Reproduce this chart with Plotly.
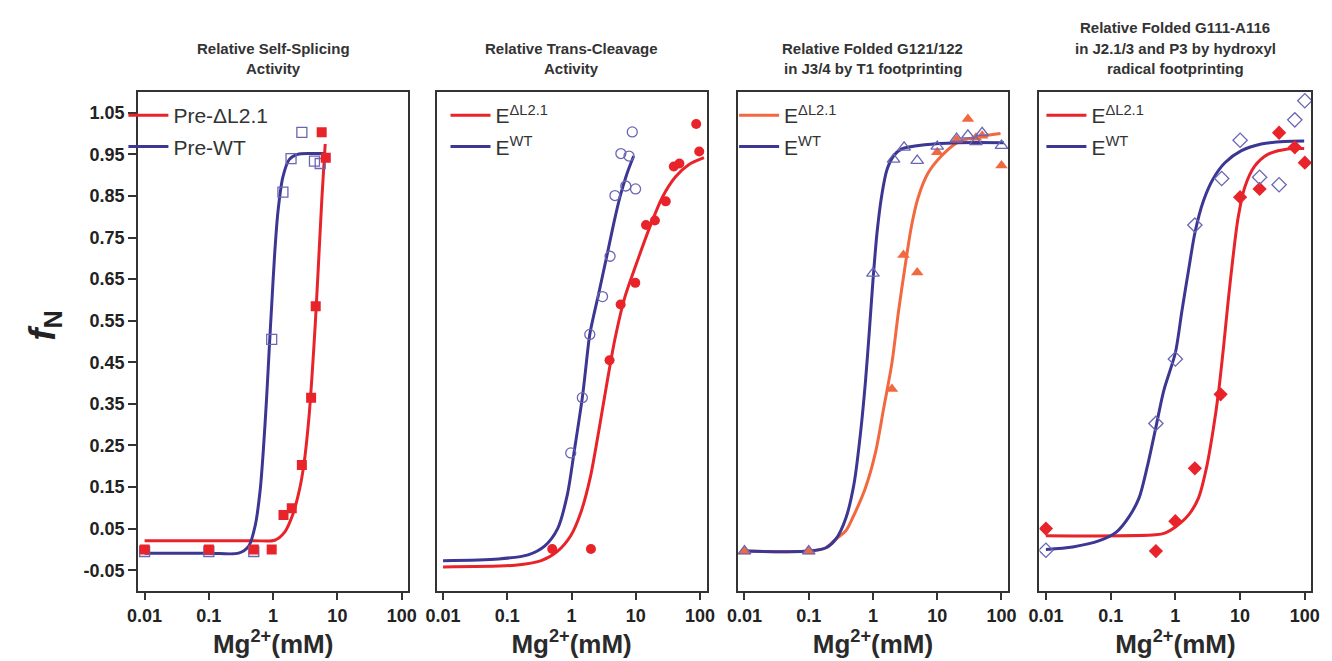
import plotly.graph_objects as go

# ---- data ----
# panel 1: self-splicing (squares)
p1_mut_x = [0.01, 0.1, 0.5, 0.95, 1.45, 1.95, 2.8, 3.9, 4.6, 5.7, 6.6]
p1_mut_y = [0.0, 0.0, 0.0, 0.0, 0.083, 0.099, 0.203, 0.365, 0.585, 1.003, 0.942]
p1_wt_x = [0.01, 0.1, 0.5, 0.95, 1.42, 1.9, 2.8, 4.4, 5.4]
p1_wt_y = [-0.005, -0.005, -0.005, 0.505, 0.859, 0.94, 1.003, 0.934, 0.928]
p1_mut_fit_x = [0.01, 0.1, 0.5, 1.06, 1.5, 2.01, 2.54, 3.03, 3.6, 4.05, 4.55, 5.12, 5.75, 6.46]
p1_mut_fit_y = [0.021, 0.021, 0.021, 0.022, 0.041, 0.083, 0.14, 0.207, 0.315, 0.423, 0.548, 0.697, 0.847, 0.975]
p1_wt_fit_x = [0.01, 0.1, 0.29, 0.417, 0.527, 0.627, 0.705, 0.792, 0.869, 0.944, 1.06, 1.19, 1.42, 1.79, 2.4, 3.82, 6.1]
p1_wt_fit_y = [-0.009, -0.009, -0.009, 0.008, 0.058, 0.141, 0.24, 0.365, 0.481, 0.58, 0.714, 0.813, 0.896, 0.938, 0.95, 0.952, 0.952]

# panel 2: trans-cleavage (circles)
p2_mut_x = [0.5, 2, 3.9, 5.8, 9.8, 14.4, 19.8, 29.2, 39, 47.7, 87, 97]
p2_mut_y = [0.001, 0.001, 0.455, 0.589, 0.641, 0.78, 0.791, 0.837, 0.921, 0.928, 1.023, 0.957]
p2_wt_x = [0.97, 1.47, 1.92, 3.03, 3.97, 4.73, 5.85, 6.97, 7.83, 8.8, 9.9]
p2_wt_y = [0.232, 0.365, 0.517, 0.608, 0.705, 0.851, 0.952, 0.874, 0.946, 1.004, 0.867]
p2_mut_fit_x = [0.01, 0.132, 0.338, 0.607, 0.97, 1.38, 1.96, 2.63, 3.53, 4.73, 6.73, 10.1, 16.2, 25.9, 41.5, 66.4, 115]
p2_mut_fit_y = [-0.042, -0.038, -0.027, -0.004, 0.033, 0.087, 0.174, 0.282, 0.398, 0.506, 0.606, 0.685, 0.772, 0.847, 0.896, 0.925, 0.942]
p2_wt_fit_x = [0.01, 0.073, 0.211, 0.38, 0.607, 0.863, 1.09, 1.47, 1.65, 1.92, 2.63, 3.53, 4.47, 5.65, 7.14, 9.25]
p2_wt_fit_y = [-0.027, -0.023, -0.013, 0.008, 0.05, 0.133, 0.232, 0.365, 0.431, 0.517, 0.614, 0.705, 0.78, 0.847, 0.9, 0.946]

# panel 3: T1 footprinting (triangles)
p3_mut_x = [0.01, 0.1, 1.97, 2.98, 4.88, 10, 20, 30, 40, 50, 100]
p3_mut_y = [-0.005, -0.005, 0.386, 0.708, 0.666, 0.955, 0.985, 1.035, 0.99, 0.995, 0.923]
p3_wt_x = [0.01, 0.1, 1, 2.09, 3.05, 4.88, 10, 20, 30, 40, 50, 100]
p3_wt_y = [-0.004, -0.004, 0.664, 0.938, 0.967, 0.935, 0.969, 0.988, 0.996, 0.98, 1.002, 0.971]
p3_mut_fit_x = [0.01, 0.103, 0.186, 0.265, 0.378, 0.479, 0.767, 1.09, 1.47, 1.97, 2.5, 3.16, 4.0, 5.06, 7.2, 11.6, 20.8, 42.3, 96.6]
p3_mut_fit_y = [-0.004, -0.004, 0.004, 0.025, 0.045, 0.075, 0.149, 0.232, 0.34, 0.448, 0.573, 0.681, 0.78, 0.847, 0.905, 0.946, 0.979, 0.992, 1.0]
p3_wt_fit_x = [0.01, 0.103, 0.186, 0.265, 0.378, 0.507, 0.642, 0.767, 0.883, 1.0, 1.16, 1.38, 1.65, 2.09, 2.81, 6.4, 20.8, 109]
p3_wt_fit_y = [-0.004, -0.004, 0.004, 0.025, 0.075, 0.158, 0.282, 0.407, 0.531, 0.647, 0.764, 0.855, 0.913, 0.946, 0.963, 0.973, 0.978, 0.978]

# panel 4: hydroxyl radical footprinting (diamonds)
p4_mut_x = [0.01, 0.5, 1, 2, 5, 10, 20, 40, 70, 100]
p4_mut_y = [0.05, -0.004, 0.068, 0.195, 0.373, 0.847, 0.867, 1.002, 0.967, 0.93]
p4_wt_x = [0.01, 0.5, 1, 2, 5.2, 10, 20, 40, 70, 100]
p4_wt_y = [-0.002, 0.303, 0.458, 0.78, 0.892, 0.984, 0.895, 0.877, 1.033, 1.079]
p4_mut_fit_x = [0.01, 0.494, 0.703, 1.0, 1.6, 2.28, 3.05, 3.86, 4.6, 5.5, 6.55, 7.8, 9.3, 11.8, 16.7, 26.8, 54.3, 97.7]
p4_mut_fit_y = [0.033, 0.035, 0.04, 0.054, 0.083, 0.124, 0.199, 0.29, 0.373, 0.481, 0.598, 0.705, 0.797, 0.871, 0.921, 0.95, 0.963, 0.964]
p4_wt_fit_x = [0.01, 0.026, 0.067, 0.121, 0.193, 0.275, 0.368, 0.494, 0.662, 1.0, 1.26, 1.6, 2.02, 2.71, 3.86, 5.82, 10.5, 21.2, 48.3, 97.7]
p4_wt_fit_y = [0.0, 0.006, 0.021, 0.041, 0.079, 0.124, 0.199, 0.29, 0.382, 0.473, 0.573, 0.672, 0.764, 0.838, 0.892, 0.93, 0.959, 0.975, 0.981, 0.982]

titles = [
    ['Relative Self-Splicing', 'Activity'],
    ['Relative Trans-Cleavage', 'Activity'],
    ['Relative Folded G121/122', 'in J3/4 by T1 footprinting'],
    ['Relative Folded G111-A116', 'in J2.1/3 and P3 by hydroxyl', 'radical footprinting'],
]
legend_names = [
    ['Pre-ΔL2.1', 'Pre-WT'],
    ['E<sup>ΔL2.1</sup>', 'E<sup>WT</sup>'],
    ['E<sup>ΔL2.1</sup>', 'E<sup>WT</sup>'],
    ['E<sup>ΔL2.1</sup>', 'E<sup>WT</sup>'],
]
x_tickvals = [0.01, 0.1, 1, 10, 100]
x_ticktext = ['0.01', '0.1', '1', '10', '100']
y_tickvals = [1.05, 0.95, 0.85, 0.75, 0.65, 0.55, 0.45, 0.35, 0.25, 0.15, 0.05, -0.05]
y_ticktext = ['1.05', '0.95', '0.85', '0.75', '0.65', '0.55', '0.45', '0.35', '0.25', '0.15', '0.05', '-0.05']

RED = '#e8232a'
ORANGE = '#f2683f'
BLUE = '#3b3792'
BLUE_OPEN = '#6a66b4'
FONT = 'Liberation Sans, Arial, sans-serif'

W, H = 1332, 661
# panel boxes in pixels (left, right); top / bottom shared
boxes = [(121, 395), (424, 698), (730, 1004), (1036, 1312)]
BOX_TOP, BOX_BOTTOM = 84, 583

panels = [
    dict(mut=(p1_mut_x, p1_mut_y), wt=(p1_wt_x, p1_wt_y),
         mfit=(p1_mut_fit_x, p1_mut_fit_y), wfit=(p1_wt_fit_x, p1_wt_fit_y),
         mcol=RED, msym='square', wsym='square-open', msize=10, wsize=10),
    dict(mut=(p2_mut_x, p2_mut_y), wt=(p2_wt_x, p2_wt_y),
         mfit=(p2_mut_fit_x, p2_mut_fit_y), wfit=(p2_wt_fit_x, p2_wt_fit_y),
         mcol=RED, msym='circle', wsym='circle-open', msize=10, wsize=10),
    dict(mut=(p3_mut_x, p3_mut_y), wt=(p3_wt_x, p3_wt_y),
         mfit=(p3_mut_fit_x, p3_mut_fit_y), wfit=(p3_wt_fit_x, p3_wt_fit_y),
         mcol=ORANGE, msym='triangle-up', wsym='triangle-up-open', msize=11, wsize=11),
    dict(mut=(p4_mut_x, p4_mut_y), wt=(p4_wt_x, p4_wt_y),
         mfit=(p4_mut_fit_x, p4_mut_fit_y), wfit=(p4_wt_fit_x, p4_wt_fit_y),
         mcol=RED, msym='diamond', wsym='diamond-open', msize=11, wsize=11),
]

fig = go.Figure()
legend_keys = ['legend', 'legend2', 'legend3', 'legend4']

for i, p in enumerate(panels):
    xa = 'x' if i == 0 else f'x{i + 1}'
    ya = 'y' if i == 0 else f'y{i + 1}'
    lg = legend_keys[i]
    # fitted curves (these carry the legend entries)
    fig.add_trace(go.Scatter(x=p['mfit'][0], y=p['mfit'][1], mode='lines',
                             line=dict(color=p['mcol'], width=3, shape='spline', smoothing=0.8),
                             name=legend_names[i][0], legend=lg, xaxis=xa, yaxis=ya,
                             legendgroup=f'm{i}'))
    fig.add_trace(go.Scatter(x=p['wfit'][0], y=p['wfit'][1], mode='lines',
                             line=dict(color=BLUE, width=3, shape='spline', smoothing=0.8),
                             name=legend_names[i][1], legend=lg, xaxis=xa, yaxis=ya,
                             legendgroup=f'w{i}'))
    # data points
    order = ['wt', 'mut'] if i == 0 else ['mut', 'wt']
    for key in order:
        if key == 'mut':
            fig.add_trace(go.Scatter(x=p['mut'][0], y=p['mut'][1], mode='markers',
                                     marker=dict(symbol=p['msym'], size=p['msize'], color=p['mcol'],
                                                 line=dict(width=0)),
                                     showlegend=False, xaxis=xa, yaxis=ya, hoverinfo='x+y'))
        else:
            fig.add_trace(go.Scatter(x=p['wt'][0], y=p['wt'][1], mode='markers',
                                     marker=dict(symbol=p['wsym'], size=p['wsize'], color=BLUE_OPEN,
                                                 line=dict(width=1.3, color=BLUE_OPEN)),
                                     showlegend=False, xaxis=xa, yaxis=ya, hoverinfo='x+y'))

layout = dict(
    width=W, height=H,
    margin=dict(l=0, r=0, t=0, b=0),
    paper_bgcolor='white', plot_bgcolor='white',
    font=dict(family=FONT, color='#2a2a2a'),
    showlegend=True,
    annotations=[],
)

ydom = [1 - BOX_BOTTOM / H, 1 - BOX_TOP / H]
legend_left = [106, 433, 726, 1038]
title_line_y = {2: [40, 60], 3: [20, 40, 60]}
for i, (l, r) in enumerate(boxes):
    sfx = '' if i == 0 else str(i + 1)
    layout[f'xaxis{sfx}'] = dict(
        type='log', range=[-2.1, 2.1], domain=[l / W, r / W],
        anchor=f'y{sfx}', tickmode='array', tickvals=x_tickvals, ticktext=x_ticktext,
        ticks='outside', ticklen=7, tickwidth=1.5, tickcolor='#333',
        showline=True, linecolor='#333', linewidth=2, mirror=True,
        showgrid=False, zeroline=False,
        tickfont=dict(size=18, family=FONT, color='#222', weight='bold'),
        title=dict(text='Mg<sup>2+</sup>(mM)', standoff=3,
                   font=dict(size=26, family=FONT, color='#2a2a2a', weight='bold')),
    )
    ycfg = dict(
        range=[-0.1, 1.1], domain=ydom, anchor=f'x{sfx}',
        showline=True, linecolor='#333', linewidth=2, mirror=True,
        showgrid=False, zeroline=False,
    )
    if i == 0:
        ycfg.update(tickmode='array', tickvals=y_tickvals, ticktext=y_ticktext,
                    ticks='outside', ticklen=8, tickwidth=1.5, tickcolor='#333',
                    tickfont=dict(size=18, family=FONT, color='#222', weight='bold'))
    else:
        ycfg.update(showticklabels=False, ticks='')
    layout[f'yaxis{sfx}'] = ycfg

    # legend inside each panel
    layout[legend_keys[i]] = dict(
        x=legend_left[i] / W, y=1 - 87 / H, xanchor='left', yanchor='top',
        bgcolor='rgba(0,0,0,0)', borderwidth=0, itemwidth=40, tracegroupgap=1,
        font=dict(size=21, family=FONT, color='#333'),
    )

    # panel title, one annotation per line
    lines = titles[i]
    for txt, ypx in zip(lines, title_line_y[len(lines)]):
        layout['annotations'].append(dict(
            text=txt, x=(l + r) / 2 / W, y=1 - ypx / H, xref='paper', yref='paper',
            xanchor='center', yanchor='middle', showarrow=False,
            font=dict(size=15, family=FONT, color='#333', weight='bold'),
        ))

# y axis label f_N
layout['annotations'].append(dict(
    text='<b><i>f</i><sub>N</sub></b>', x=26 / W, y=1 - 318 / H, xref='paper', yref='paper',
    xanchor='center', yanchor='middle', showarrow=False, textangle=-90,
    font=dict(size=36, family=FONT, color='#222'),
))

fig.update_layout(**layout)
fig.write_html('out.html')
